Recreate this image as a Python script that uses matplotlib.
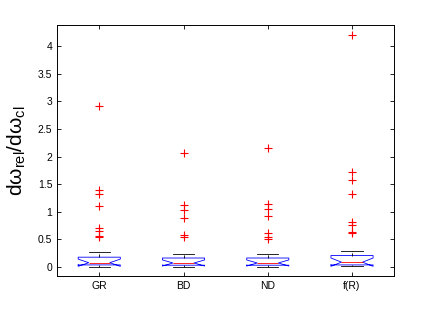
import matplotlib
matplotlib.use("Agg")
import matplotlib.pyplot as plt

plt.rcParams['font.family'] = ['Liberation Sans', 'DejaVu Sans']
plt.rcParams['mathtext.fontset'] = 'custom'
plt.rcParams['mathtext.rm'] = 'Liberation Sans'
plt.rcParams['mathtext.it'] = 'Liberation Sans:italic'

categories = ['GR', 'BD', 'ND', 'f(R)']
q1 = [0.04, 0.035, 0.035, 0.04]
med = [0.08, 0.075, 0.075, 0.09]
q3 = [0.18, 0.165, 0.165, 0.21]
whislo = [0.01, 0.01, 0.01, 0.015]
whishi = [0.27, 0.235, 0.235, 0.30]
cilo = [0.015, 0.02, 0.02, 0.015]
cihi = [0.145, 0.13, 0.13, 0.165]
fliers = [
    [2.92, 1.40, 1.32, 1.10, 0.70, 0.65, 0.57, 0.55],
    [2.07, 1.12, 1.03, 0.89, 0.59, 0.55],
    [2.15, 1.15, 1.06, 0.92, 0.61, 0.55, 0.50],
    [4.19, 1.72, 1.58, 1.32, 0.81, 0.77, 0.64, 0.62],
]
yticks = [0, 0.5, 1, 1.5, 2, 2.5, 3, 3.5, 4]
ytick_labels = ['0', '0.5', '1', '1.5', '2', '2.5', '3', '3.5', '4']

stats = []
for i, c in enumerate(categories):
    stats.append(dict(label=c, q1=q1[i], med=med[i], q3=q3[i],
                      whislo=whislo[i], whishi=whishi[i],
                      cilo=cilo[i], cihi=cihi[i], fliers=fliers[i]))

fig = plt.figure(figsize=(4.36, 3.27), dpi=100)
ax = fig.add_axes([0.131, 0.156, 0.773, 0.768])

ax.bxp(stats, positions=[1, 2, 3, 4], widths=0.5, shownotches=True,
       boxprops=dict(color='#0000ff', linewidth=0.6),
       medianprops=dict(color='#ff0000', linewidth=0.6),
       whiskerprops=dict(color='black', linewidth=0.6, linestyle='--'),
       capprops=dict(color='black', linewidth=0.6),
       flierprops=dict(marker='+', markeredgecolor='#ff0000',
                       markersize=6, markeredgewidth=0.8, linestyle='none'),
       manage_ticks=False)

ax.set_xlim(0.5, 4.5)
ax.set_ylim(-0.16, 4.38)
ax.set_xticks([1, 2, 3, 4])
ax.set_xticklabels(categories, fontsize=7.5)
ax.set_yticks(yticks)
ax.set_yticklabels(ytick_labels, fontsize=7.5)
ax.tick_params(direction='in', top=True, right=True, length=3, width=0.6)
for s in ax.spines.values():
    s.set_linewidth(0.7)

ax.set_ylabel(r'd$\mathrm{\omega}_{\mathrm{rel}}$/d$\mathrm{\omega}_{\mathrm{cl}}$', fontsize=15)
ax.yaxis.set_label_coords(-0.085, 0.5)

fig.savefig('out.png', dpi=100)
